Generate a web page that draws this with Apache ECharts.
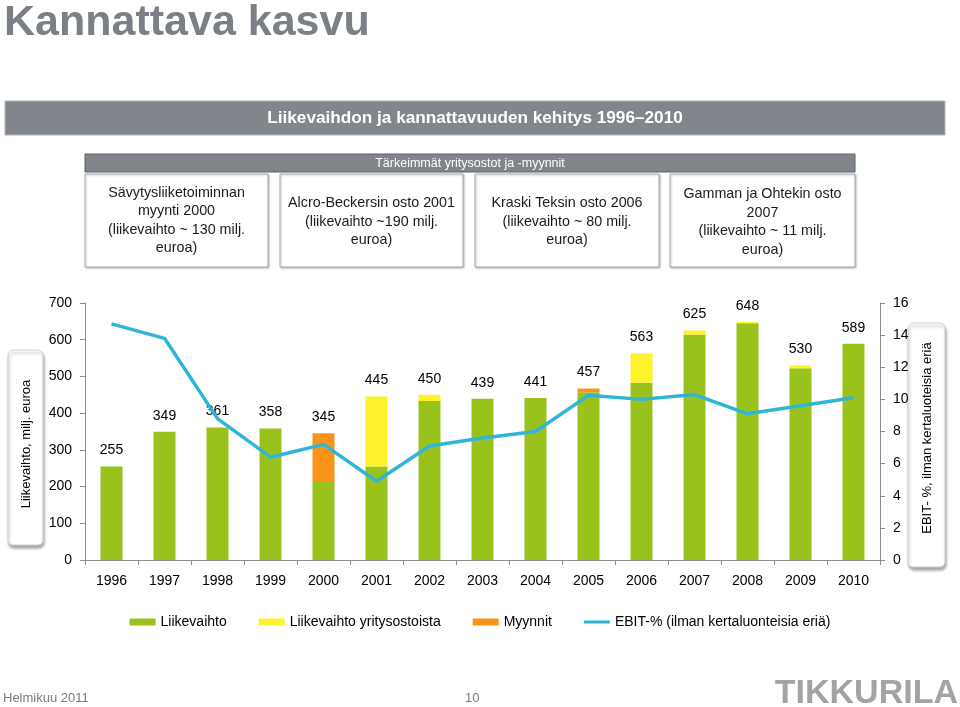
<!DOCTYPE html>
<html>
<head>
<meta charset="utf-8">
<script src="https://cdn.jsdelivr.net/npm/echarts@6/dist/echarts.min.js"></script>
<style>
html,body{margin:0;padding:0;background:#fff;}
#main{width:960px;height:707px;}
</style>
</head>
<body>
<div id="main"></div>
<script>
var years = ['1996','1997','1998','1999','2000','2001','2002','2003','2004','2005','2006','2007','2008','2009','2010'];
var liikevaihto = [255,349,361,358,215,255,433,439,441,457,483,614,645,522,589];
var yritysostot = [0,0,0,0,0,190,17,0,0,0,80,11,3,8,0];
var myynnit = [0,0,0,0,130,0,0,0,0,10,0,0,0,0,0];
var totals = [255,349,361,358,345,445,450,439,441,457,563,625,648,530,589];
var ebit = [14.7,13.8,8.8,6.4,7.2,4.9,7.1,7.6,8.0,10.25,10.0,10.3,9.1,9.6,10.1];
var leftTicks = {min:0, max:700, interval:100};
var rightTicks = {min:0, max:16, interval:2};

var FONT = '"Liberation Sans", Arial, sans-serif';
var chart = echarts.init(document.getElementById('main'));

function box(x, y, w, h) {
  return {type:'rect', shape:{x:x, y:y, width:w, height:h},
    style:{fill:'#fff', stroke:'#a9a9a9', lineWidth:1, shadowBlur:2, shadowOffsetX:1, shadowOffsetY:1, shadowColor:'rgba(0,0,0,0.25)'}};
}
function boxText(cx, cy, t) {
  return {type:'text', x:cx, y:cy, style:{text:t, font:'14.3px ' + FONT, fill:'#1a1a1a', align:'center', verticalAlign:'middle', lineHeight:18.5}};
}

var lineName = 'EBIT-% (ilman kertaluonteisia eriä)';
var option = {
  animation: false,
  textStyle: {fontFamily: FONT},
  grid: {left:85, right:80, top:303, bottom:147},
  legend: {
    data: ['Liikevaihto','Liikevaihto yritysostoista','Myynnit',
      {name: lineName, icon: 'path://M0,0 H26 V3 H0 Z', itemStyle: {color: '#2fb5d6'}}],
    left: 'center', top: 610, itemWidth: 26, itemHeight: 7, itemGap: 32, icon: 'rect',
    textStyle: {fontSize: 14, color: '#000', fontFamily: FONT}
  },
  xAxis: {
    type: 'category', data: years,
    axisLine: {lineStyle: {color: '#8c8c8c'}},
    axisTick: {show: true, length: 5, lineStyle: {color: '#8c8c8c'}},
    axisLabel: {fontSize: 14, color: '#000', margin: 14}
  },
  yAxis: [
    {type: 'value', min: leftTicks.min, max: leftTicks.max, interval: leftTicks.interval,
     splitLine: {show: false},
     axisLine: {show: true, lineStyle: {color: '#8c8c8c'}},
     axisTick: {show: true, length: 5, lineStyle: {color: '#8c8c8c'}},
     axisLabel: {fontSize: 14, color: '#000', margin: 13}},
    {type: 'value', min: rightTicks.min, max: rightTicks.max, interval: rightTicks.interval,
     splitLine: {show: false},
     axisLine: {show: true, lineStyle: {color: '#8c8c8c'}},
     axisTick: {show: true, length: 5, lineStyle: {color: '#8c8c8c'}},
     axisLabel: {fontSize: 14, color: '#000', margin: 13}}
  ],
  series: [
    {name: 'Liikevaihto', type: 'bar', stack: 's', data: liikevaihto, barWidth: 22,
     itemStyle: {color: '#99c31c'}},
    {name: 'Liikevaihto yritysostoista', type: 'bar', stack: 's', data: yritysostot,
     itemStyle: {color: '#fff22a'}},
    {name: 'Myynnit', type: 'bar', stack: 's', data: myynnit,
     itemStyle: {color: '#f9931a'}},
    {name: 'total', type: 'bar', stack: 's', data: years.map(function(){return 0;}),
     itemStyle: {color: 'rgba(0,0,0,0)'},
     label: {show: true, position: 'top', distance: 9, fontSize: 14, color: '#000',
       formatter: function(p){ return totals[p.dataIndex]; }}},
    {name: lineName, type: 'line', yAxisIndex: 1, data: ebit,
     symbol: 'none', lineStyle: {color: '#2fb5d6', width: 3.5}, itemStyle: {color: '#2fb5d6'}, z: 5}
  ],
  graphic: [
    {type:'text', left:4, top:2, style:{text:'Kannattava kasvu', font:'bold 43px ' + FONT, fill:'#7b8087'}},
    {type:'rect', shape:{x:5, y:101, width:940, height:34}, style:{fill:'#80868c', stroke:'#b0b4b8', lineWidth:1}},
    {type:'text', x:475, y:118.5, style:{text:'Liikevaihdon ja kannattavuuden kehitys 1996–2010', font:'bold 17.2px ' + FONT, fill:'#fff', align:'center', verticalAlign:'middle'}},
    {type:'rect', shape:{x:85, y:154, width:770, height:18}, style:{fill:'#80858b', stroke:'#5f6368', lineWidth:1}},
    {type:'text', x:470, y:163.5, style:{text:'Tärkeimmät yritysostot ja -myynnit', font:'12.5px ' + FONT, fill:'#fff', align:'center', verticalAlign:'middle'}},
    box(85, 174, 183, 93),
    box(280, 174, 183, 93),
    box(475, 174, 184, 93),
    box(670, 174, 185, 93),
    boxText(176.5, 220.5, 'Sävytysliiketoiminnan\nmyynti 2000\n(liikevaihto ~ 130 milj.\neuroa)'),
    boxText(371.5, 222, 'Alcro-Beckersin osto 2001\n(liikevaihto ~190 milj.\neuroa)'),
    boxText(567, 222, 'Kraski Teksin osto 2006\n(liikevaihto ~ 80 milj.\neuroa)'),
    boxText(762.5, 222, 'Gamman ja Ohtekin osto\n2007\n(liikevaihto ~ 11 milj.\neuroa)'),
    {type:'rect', shape:{x:8, y:350, width:35, height:195, r:5}, style:{fill:'#fff', stroke:'#cfcfcf', lineWidth:1, shadowBlur:3, shadowOffsetX:1, shadowOffsetY:3, shadowColor:'rgba(0,0,0,0.35)'}},
    {type:'text', x:26, y:444, rotation:Math.PI/2, style:{text:'Liikevaihto, milj. euroa', font:'13px ' + FONT, fill:'#000', align:'center', verticalAlign:'middle'}},
    {type:'rect', shape:{x:908, y:323, width:37, height:244, r:5}, style:{fill:'#fff', stroke:'#cfcfcf', lineWidth:1, shadowBlur:3, shadowOffsetX:1, shadowOffsetY:3, shadowColor:'rgba(0,0,0,0.35)'}},
    {type:'text', x:927, y:438, rotation:Math.PI/2, style:{text:'EBIT- %, ilman kertaluoteisia eriä', font:'13px ' + FONT, fill:'#000', align:'center', verticalAlign:'middle'}},
    {type:'text', x:3, y:698, style:{text:'Helmikuu 2011', font:'13px ' + FONT, fill:'#7a7a7a', verticalAlign:'middle'}},
    {type:'text', x:465, y:698, style:{text:'10', font:'13px ' + FONT, fill:'#7a7a7a', verticalAlign:'middle'}},
    {type:'text', x:958, y:694, style:{text:'TIKKURILA', font:'bold 34px ' + FONT, fill:'#a3a3a3', align:'right', verticalAlign:'middle'}}
  ]
};
chart.setOption(option);
</script>
</body>
</html>
